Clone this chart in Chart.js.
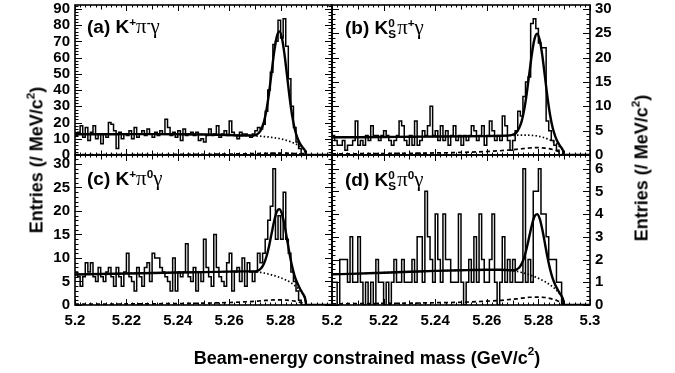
<!DOCTYPE html>
<html><head><meta charset="utf-8">
<script src="https://cdn.jsdelivr.net/npm/chart.js@4.4.1/dist/chart.umd.min.js"></script>
<style>
html,body{margin:0;padding:0;background:#fff;}
#wrap{position:relative;width:675px;height:373px;overflow:hidden;background:#fff;font-family:"Liberation Sans",Arial,sans-serif;color:#000;}
canvas{position:absolute;}
.lbl{position:absolute;font-weight:bold;font-size:19px;line-height:19px;white-space:nowrap;}
.gr{font-family:"Liberation Serif","DejaVu Serif",serif;font-weight:normal;font-size:1.1em;}
.lbl sup{font-size:0.62em;vertical-align:0.62em;line-height:0;}
.ss{display:inline-block;vertical-align:-0.32em;font-size:0.62em;line-height:0.95;text-align:left;margin-right:1px;}
.ss span{display:block;}
.title{position:absolute;font-weight:bold;font-size:18px;white-space:nowrap;transform:translate(-50%,-50%);}
.title sup{font-size:0.65em;vertical-align:0.7em;line-height:0;}
.rot{transform:translate(-50%,-50%) rotate(-90deg);}
</style></head><body>
<div id="wrap">
<canvas id="ca" width="352" height="195" style="left:0px;top:-20px;"></canvas>
<canvas id="cb" width="330" height="195" style="left:312px;top:-20px;"></canvas>
<canvas id="cc" width="352" height="215" style="left:0px;top:130px;"></canvas>
<canvas id="cd" width="330" height="215" style="left:312px;top:130px;"></canvas>
<div class="lbl" style="left:87px;top:17px;">(a) K<sup>+</sup><span class="gr">π</span><sup>-</sup><span class="gr">γ</span></div>
<div class="lbl" style="left:345px;top:17px;">(b) K<span class="ss"><span>0</span><span>S</span></span><span class="gr">π</span><sup>+</sup><span class="gr">γ</span></div>
<div class="lbl" style="left:87px;top:169px;">(c) K<sup>+</sup><span class="gr">π</span><sup>0</sup><span class="gr">γ</span></div>
<div class="lbl" style="left:345px;top:169px;">(d) K<span class="ss"><span>0</span><span>S</span></span><span class="gr">π</span><sup>0</sup><span class="gr">γ</span></div>
<div class="title rot" style="left:37px;top:160px;">Entries (/ MeV/c<sup>2</sup>)</div>
<div class="title rot" style="left:642px;top:168px;">Entries (/ MeV/c<sup>2</sup>)</div>
<div class="title" style="left:367px;top:358px;">Beam-energy constrained mass (GeV/c<sup>2</sup>)</div>
</div>
<script>
// ---- histogram binning (1 MeV/c^2 bins from 5.20 to 5.30 GeV/c^2)
const binLo = 5.2;
const binWidth = 0.001;

// ---- histogram contents (entries per bin)
const histA = [12,14,18,11,17,9,14,18,10,13, 7,13,11,20,19,15,4,14,10,13,
  12,15,10,17,11,13,15,12,16,13, 11,14,12,15,13,22,17,12,14,11,
  15,9,16,12,13,14,12,14,9,10, 8,12,16,12,13,18,11,13,15,12,
  21,14,12,10,14,13,13,12,11,13, 15,17,16,19,27,40,51,68,70,83,
  72,84,67,47,30,17,8,4,1,0, 0,0,0,0,0,0,0,0,0,0];
const histB = [4,3,2,2,3,1,2,2,3,7, 2,3,2,4,3,6,4,4,3,4,
  5,4,3,2,3,4,7,6,3,2, 4,2,7,2,3,5,4,6,10,4,
  5,3,6,3,5,2,4,6,3,4, 2,4,3,4,6,5,3,4,6,2,
  4,7,5,3,4,3,8,6,3,1, 3,5,9,8,12,15,16,27,28,26,
  23,22,22,7,5,3,2,1,0,0, 0,0,0,0,0,0,0,0,0,0];
const histC = [7,6,4,6,9,7,9,6,5,8, 6,5,7,8,6,4,8,6,4,7,
  11,6,5,3,8,6,4,8,9,5, 11,10,10,8,7,6,5,3,10,3,
  7,6,7,13,6,5,8,3,7,5, 14,8,6,4,15,8,6,5,4,9,
  11,3,7,8,5,10,4,9,7,5, 7,11,9,11,14,18,21,29,14,19,
  14,24,14,11,7,5,3,1,0,0, 0,0,0,0,0,0,0,0,0,0];
const histD = [1,1,0,2,2,2,1,3,1,1, 3,1,0,1,0,1,0,2,1,1,
  0,1,0,1,2,1,1,2,1,1, 1,2,1,3,3,1,5,3,2,1,
  4,2,1,4,2,2,1,1,1,4, 1,0,1,2,1,3,1,4,2,1,
  1,2,4,1,0,1,3,1,2,1, 2,1,1,1,6,1,2,1,5,5,
  6,4,4,3,2,2,2,1,1,0, 0,0,0,0,0,0,0,0,0,0];

// ---- fit curves sampled at these masses (GeV/c^2)
const curveX = [5.2,5.21,5.22,5.23,5.24,5.25,5.26,5.265,5.2695,5.2705,5.2715,5.2725,5.2735,5.2745,
  5.2755,5.2765,5.2775,5.2785,5.2795,5.2805,5.2815,5.2825,5.2835,5.2845,5.2855,5.2865,5.2875,5.2885,5.2895,5.29,5.295,5.3];
// total fit (solid), total background (dotted), B-Bbar background (dashed)
const totA = [12.78,12.8,12.84,12.88,12.81,12.64,12.3,12.04,12.06,12.45,13.52,15.91,20.26,27.71,38.2,50.91,63.5,72.84,76.15,72.2,62.22,49.0,35.51,24.23,15.98,10.68,7.17,4.82,2.64,0.15,0,0];
const dotA = [12.78,12.8,12.84,12.88,12.81,12.64,12.3,12.04,11.8,11.72,11.63,11.55,11.35,11.28,11.07,10.85,10.63,10.4,10.15,9.76,9.35,8.94,8.38,7.8,7.07,6.32,5.28,4.09,2.38,0,0,0];
const dashA = [0.18,0.2,0.24,0.28,0.34,0.42,0.58,0.7,0.84,0.88,0.92,0.97,1.02,1.07,1.12,1.15,1.18,1.2,1.2,1.19,1.16,1.13,1.07,1.0,0.9,0.78,0.62,0.44,0.24,0,0,0];
const totB = [3.63,3.66,3.7,3.75,3.79,3.83,3.88,3.93,4.09,4.25,4.65,5.47,6.91,9.32,12.72,16.81,20.84,23.85,24.91,23.67,20.49,16.27,11.94,8.32,5.64,3.87,2.64,1.78,0.96,0.05,0,0];
const dotB = [3.63,3.66,3.7,3.75,3.79,3.83,3.88,3.93,4.01,4.02,4.05,4.08,4.07,4.09,4.09,4.06,4.02,3.98,3.91,3.8,3.67,3.52,3.31,3.09,2.8,2.48,2.04,1.55,0.88,0,0,0];
const dashB = [0.23,0.26,0.3,0.35,0.42,0.53,0.72,0.87,1.05,1.1,1.16,1.22,1.28,1.34,1.4,1.44,1.47,1.5,1.5,1.49,1.46,1.41,1.34,1.25,1.13,0.98,0.78,0.56,0.3,0,0,0];
const totC = [6.5,6.6,6.7,6.8,6.9,7.0,7.1,7.15,7.16,7.21,7.41,7.86,8.76,10.31,12.51,15.2,17.86,19.82,20.4,19.42,17.06,14.0,10.86,8.16,6.11,4.66,3.51,2.56,1.46,0.03,0,0];
const dotC = [6.5,6.6,6.7,6.8,6.9,7.0,7.1,7.15,7.1,7.05,7.0,6.9,6.8,6.7,6.55,6.4,6.25,6.1,5.9,5.7,5.45,5.2,4.9,4.55,4.15,3.7,3.1,2.4,1.4,0,0,0];
const dashC = [0.17,0.19,0.22,0.25,0.31,0.39,0.53,0.64,0.77,0.8,0.85,0.89,0.94,0.98,1.02,1.06,1.08,1.1,1.1,1.09,1.07,1.03,0.98,0.91,0.83,0.72,0.57,0.41,0.22,0,0,0];
const totD = [1.35,1.38,1.42,1.46,1.5,1.53,1.55,1.55,1.53,1.53,1.56,1.64,1.81,2.1,2.52,3.03,3.53,3.9,4.0,3.8,3.33,2.73,2.11,1.59,1.18,0.89,0.67,0.48,0.27,0.01,0,0];
const dotD = [1.35,1.38,1.42,1.46,1.5,1.53,1.55,1.55,1.52,1.5,1.48,1.46,1.43,1.4,1.37,1.33,1.29,1.25,1.2,1.15,1.09,1.03,0.96,0.89,0.8,0.71,0.59,0.45,0.26,0,0,0];
const dashD = [0.05,0.06,0.07,0.08,0.1,0.12,0.17,0.2,0.25,0.26,0.27,0.28,0.3,0.31,0.33,0.34,0.34,0.35,0.35,0.35,0.34,0.33,0.31,0.29,0.26,0.23,0.18,0.13,0.07,0,0,0];

// ---- axis ranges and tick labels
const xMin = 5.2, xMax = 5.3;
const xTicksLeft = [5.2,5.22,5.24,5.26,5.28];
const xLabelsLeft = ['5.2','5.22','5.24','5.26','5.28'];
const xTicksRight = [5.2,5.22,5.24,5.26,5.28,5.3];
const xLabelsRight = ['5.2','5.22','5.24','5.26','5.28','5.3'];
const yMaxA = 92.4, yMaxB = 30.8, yMaxC = 31.9, yMaxD = 6.6;
const yTicksA = [0,10,20,30,40,50,60,70,80,90];
const yTicksB = [0,5,10,15,20,25,30];
const yTicksC = [0,5,10,15,20,25,30];
const yTicksD = [0,1,2,3,4,5,6];

const FONT = {family:'"Liberation Sans", Arial, sans-serif', size:15, weight:'bold'};

const framePlugin = {
  id:'frame',
  afterDraw(chart, args, o){
    const {ctx, chartArea:a, scales:{x, y}} = chart;
    ctx.save();
    ctx.strokeStyle = '#000';
    ctx.lineWidth = 1;
    ctx.beginPath();
    const nx = Math.round((x.max - x.min)/o.xMinor);
    for(let k=0;k<=nx;k++){
      const px = Math.round(x.getPixelForValue(x.min + k*o.xMinor)) + 0.5;
      const len = (k%10===0) ? 6 : ((k%5===0) ? 4.5 : 2.5);
      ctx.moveTo(px, a.bottom); ctx.lineTo(px, a.bottom - len);
      ctx.moveTo(px, a.top); ctx.lineTo(px, a.top + len);
    }
    const ny = Math.floor(y.max/o.yMinor + 1e-6);
    for(let k=0;k<=ny;k++){
      const py = Math.round(y.getPixelForValue(k*o.yMinor)) + 0.5;
      const len = (k%o.yRatio===0) ? 7 : 3.5;
      ctx.moveTo(a.left, py); ctx.lineTo(a.left + len, py);
      ctx.moveTo(a.right, py); ctx.lineTo(a.right - len, py);
    }
    ctx.stroke();
    ctx.lineWidth = 1.6;
    ctx.strokeRect(a.left, a.top, a.right - a.left, a.bottom - a.top);
    ctx.restore();
  }
};

function histPoints(h){
  const pts = h.map((v,i)=>({x: binLo + i*binWidth, y: v}));
  pts.push({x: binLo + h.length*binWidth, y: h[h.length-1]});
  return pts;
}
function curvePoints(ys){ return curveX.map((x,i)=>({x:x, y:ys[i]})); }

function makePanel(id, cfg){
  const curveStyle = {pointRadius:0, borderColor:'#000', fill:false, cubicInterpolationMode:'monotone'};
  new Chart(document.getElementById(id), {
    type:'line',
    data:{datasets:[
      {data:histPoints(cfg.hist), stepped:'before', borderColor:'#000', borderWidth:1.5, pointRadius:0, fill:false},
      Object.assign({data:curvePoints(cfg.dash), borderWidth:1.7, borderDash:[4,3]}, curveStyle),
      Object.assign({data:curvePoints(cfg.dot), borderWidth:1.7, borderDash:[1.5,2.2]}, curveStyle),
      Object.assign({data:curvePoints(cfg.tot), borderWidth:2.4}, curveStyle)
    ]},
    options:{
      responsive:false, animation:false, events:[],
      layout:{padding:cfg.padding},
      plugins:{legend:{display:false}, tooltip:{enabled:false}, frame:{xMinor:0.002, yMinor:cfg.yMinor, yRatio:cfg.yRatio}},
      scales:{
        x:{type:'linear', min:xMin, max:xMax, display:cfg.showX,
           grid:{display:false, drawTicks:false}, border:{display:false},
           ticks:{font:FONT, color:'#000', padding:7, maxRotation:0, autoSkip:false,
                  callback:(v,i)=>cfg.xLabels[i]},
           afterBuildTicks:(s)=>{ s.ticks = cfg.xTicks.map(v=>({value:v})); },
           afterFit:(s)=>{ if(cfg.showX){ s.height = 40; } s.paddingLeft = 0; s.paddingRight = 0; }},
        y:{type:'linear', min:0, max:cfg.yMax, position:cfg.yPos,
           grid:{display:false, drawTicks:false}, border:{display:false},
           ticks:{font:FONT, color:'#000', padding:5, autoSkip:false,
                  callback:(v,i)=>String(cfg.yTicks[i])},
           afterBuildTicks:(s)=>{ s.ticks = cfg.yTicks.map(v=>({value:v})); },
           afterFit:(s)=>{ s.width = cfg.yWidth; s.paddingTop = 0; s.paddingBottom = 0; }}
      }
    },
    plugins:[framePlugin]
  });
}

makePanel('ca', {hist:histA, tot:totA, dot:dotA, dash:dashA, yMax:yMaxA, yTicks:yTicksA, yMinor:2, yRatio:5,
  yPos:'left', yWidth:75, showX:false, xTicks:xTicksLeft, xLabels:xLabelsLeft, padding:{left:0, right:20, top:25, bottom:20}});
makePanel('cb', {hist:histB, tot:totB, dot:dotB, dash:dashB, yMax:yMaxB, yTicks:yTicksB, yMinor:1, yRatio:5,
  yPos:'right', yWidth:52, showX:false, xTicks:xTicksRight, xLabels:xLabelsRight, padding:{left:20, right:0, top:25, bottom:20}});
makePanel('cc', {hist:histC, tot:totC, dot:dotC, dash:dashC, yMax:yMaxC, yTicks:yTicksC, yMinor:1, yRatio:5,
  yPos:'left', yWidth:75, showX:true, xTicks:xTicksLeft, xLabels:xLabelsLeft, padding:{left:0, right:20, top:25, bottom:0}});
makePanel('cd', {hist:histD, tot:totD, dot:dotD, dash:dashD, yMax:yMaxD, yTicks:yTicksD, yMinor:0.2, yRatio:5,
  yPos:'right', yWidth:52, showX:true, xTicks:xTicksRight, xLabels:xLabelsRight, padding:{left:20, right:0, top:25, bottom:0}});
</script>
</body></html>
